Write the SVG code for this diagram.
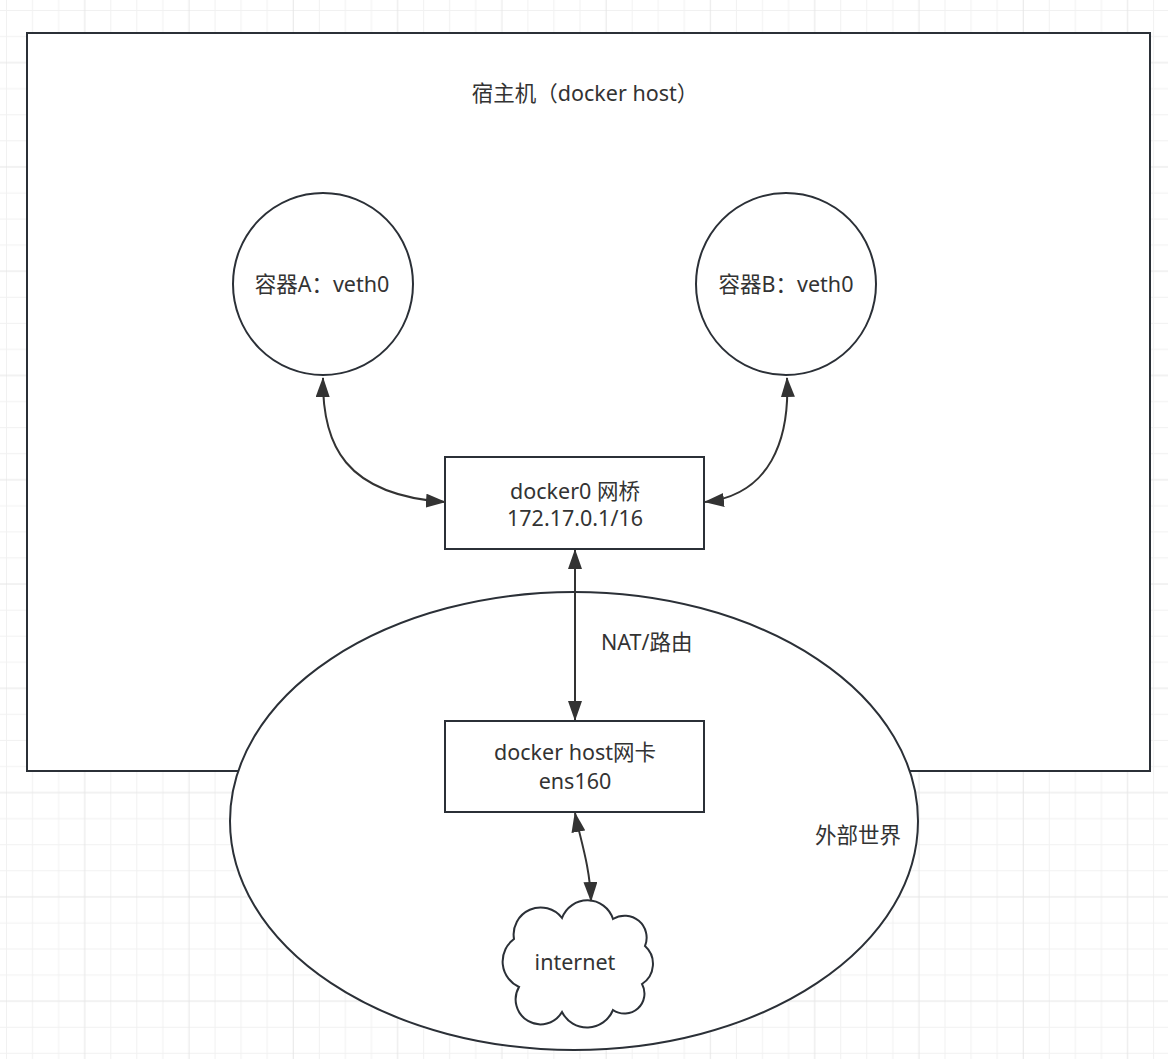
<svg xmlns="http://www.w3.org/2000/svg" width="1168" height="1059" viewBox="0 0 1168 1059">
<defs>
<pattern id="grid" patternUnits="userSpaceOnUse" x="6" y="10" width="104.28" height="104.28">
<path d="M0.5,0 V104.28 M26.57,0 V104.28 M52.64,0 V104.28 M0,0.5 H104.28 M0,26.57 H104.28 M0,78.71 H104.28" stroke="#f1f1f1" stroke-width="1" fill="none"/>
<path d="M78.71,0 V104.28 M0,52.64 H104.28" stroke="#e6e6e6" stroke-width="1" fill="none"/>
</pattern>
<marker id="arr" markerUnits="userSpaceOnUse" markerWidth="20" markerHeight="14" refX="19" refY="7" orient="auto-start-reverse" viewBox="0 0 20 14">
<path d="M0,0 L20,7 L0,14 z" fill="#333333"/>
</marker>
<style>
.shape{fill:#ffffff;stroke:#2b3037;stroke-width:2}
.lbl{font-family:"Noto Sans","Noto Sans CJK SC",sans-serif;font-size:21.5px;fill:#333333;text-anchor:middle}
.conn{fill:none;stroke:#333333;stroke-width:2;marker-start:url(#arr);marker-end:url(#arr)}
</style>
</defs>
<rect x="0" y="0" width="1168" height="1059" fill="#ffffff"/>
<rect x="0" y="0" width="1168" height="1059" fill="url(#grid)"/>
<g id="host">
<rect class="shape" x="27" y="33" width="1123" height="738"/>
<text class="lbl" x="585" y="101">宿主机（docker host）</text>
</g>
<g id="external">
<ellipse class="shape" cx="574" cy="821" rx="344" ry="229"/>
<text class="lbl" x="858" y="843">外部世界</text>
</g>
<g id="containerA">
<ellipse class="shape" cx="323" cy="284" rx="90" ry="91"/>
<text class="lbl" x="322" y="292">容器A：veth0</text>
</g>
<g id="containerB">
<ellipse class="shape" cx="786" cy="284" rx="90" ry="91"/>
<text class="lbl" x="786" y="292">容器B：veth0</text>
</g>
<g id="docker0">
<rect class="shape" x="445" y="457" width="259" height="92"/>
<text class="lbl" x="575" y="499">docker0 网桥</text>
<text class="lbl" x="575" y="526">172.17.0.1/16</text>
</g>
<g id="nic">
<rect class="shape" x="445" y="721" width="259" height="91"/>
<text class="lbl" x="575" y="760">docker host网卡</text>
<text class="lbl" x="575" y="789">ens160</text>
</g>
<g id="internet">
<path class="shape" d="M514,939 A27,27 0 0 1 562,918 A27,27 0 0 1 613,919 A22,22 0 0 1 645,946 A24,24 0 0 1 642,984 A20,20 0 0 1 613,1010 A28,28 0 0 1 562,1012 A24,24 0 0 1 519,987 A28,28 0 0 1 514,939 z"/>
<text class="lbl" x="575" y="970">internet</text>
</g>
<g id="connectors">
<path class="conn" d="M323,378 C322,445 345,495 445,502"/>
<path class="conn" d="M787,378 C790,440 770,495 705,502"/>
<path class="conn" d="M575,550 L575,720"/>
<path class="conn" d="M575,813 C579,835 590,865 591,901"/>
<text class="lbl" x="601" y="650" style="text-anchor:start">NAT/路由</text>
</g>
</svg>
